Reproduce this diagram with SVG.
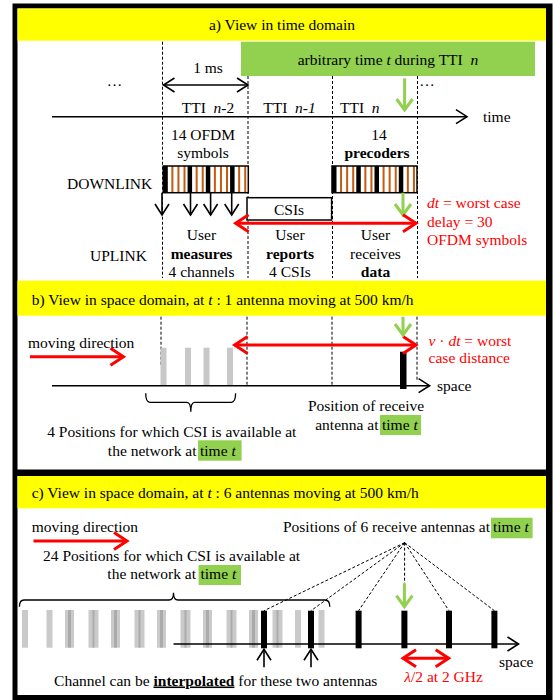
<svg xmlns="http://www.w3.org/2000/svg" xmlns:xlink="http://www.w3.org/1999/xlink" width="553" height="700" viewBox="0 0 553 700">
<style>
.t{font-family:"Liberation Serif","Times New Roman",serif;font-size:15.5px;fill:#000}
.m{text-anchor:middle}
.e{text-anchor:end}
.r{fill:#ff0000}
.b{font-weight:bold}
.i{font-style:italic}
.d{stroke:#000;stroke-width:1;stroke-dasharray:3 2;fill:none}
.k{stroke:#000;stroke-width:1.6;fill:none}
.kr{stroke:#ff0000;stroke-width:3;fill:none}
.kg{stroke:#92d050;stroke-width:3;fill:none}
.hl{fill:#92d050}
.gb{fill:#c8c8c8}
.gc{fill:#808080;fill-opacity:0.42}
.ant{fill:#000}
</style>
<defs>
<marker id="hk" viewBox="-13 -9 15 18" refX="0" refY="0" markerWidth="15" markerHeight="18" markerUnits="userSpaceOnUse" orient="auto-start-reverse" overflow="visible"><path d="M-11,-7 L0,0 L-11,7" fill="none" stroke="#000" stroke-width="1.6"/></marker>
<marker id="hr" viewBox="-16 -12 19 24" refX="0" refY="0" markerWidth="19" markerHeight="24" markerUnits="userSpaceOnUse" orient="auto-start-reverse" overflow="visible"><path d="M-13,-8.5 L0,0 L-13,8.5" fill="none" stroke="#ff0000" stroke-width="3"/></marker>
<marker id="hg" viewBox="-14 -10 17 20" refX="0" refY="0" markerWidth="17" markerHeight="20" markerUnits="userSpaceOnUse" orient="auto-start-reverse" overflow="visible"><path d="M-11,-8 L0,0 L-11,8" fill="none" stroke="#92d050" stroke-width="3"/></marker>
<g id="sf">
<rect x="0" y="0" width="85" height="26.7" fill="#fff"/>
<g fill="#c55a11">
<rect x="8.07" y="0" width="2" height="26.7"/><rect x="14.14" y="0" width="2" height="26.7"/><rect x="20.21" y="0" width="2" height="26.7"/>
<rect x="32.36" y="0" width="2" height="26.7"/><rect x="38.43" y="0" width="2" height="26.7"/>
<rect x="50.57" y="0" width="2" height="26.7"/><rect x="56.64" y="0" width="2" height="26.7"/><rect x="62.71" y="0" width="2" height="26.7"/>
<rect x="74.86" y="0" width="2" height="26.7"/><rect x="80.93" y="0" width="2" height="26.7"/>
</g>
<g fill="#000">
<rect x="0" y="0" width="4.5" height="26.7"/><rect x="24.29" y="0" width="4.5" height="26.7"/><rect x="42.5" y="0" width="4.5" height="26.7"/><rect x="66.79" y="0" width="4.5" height="26.7"/>
</g>
<rect x="0" y="0" width="85" height="26.7" fill="none" stroke="#000" stroke-width="1.5"/>
</g>
</defs>

<g id="frame">
<rect x="12.5" y="3.5" width="540" height="696.5" fill="#000"/>
<rect x="17.5" y="8.5" width="528.5" height="461" fill="#fff"/>
<rect x="17.5" y="8.5" width="528.5" height="32.2" fill="#ffff00"/>
<rect x="17.5" y="280.7" width="528.5" height="35" fill="#ffff00"/>
<rect x="17.5" y="476" width="528.5" height="219" fill="#fff"/>
<rect x="17.5" y="476" width="528.5" height="32.3" fill="#ffff00"/>
</g>

<g id="titles">
<text class="t m" x="282" y="29.5">a) View in time domain</text>
<text class="t" x="31.7" y="305">b) View in space domain, at <tspan class="i">t</tspan> : 1 antenna moving at 500 km/h</text>
<text class="t" x="31.7" y="498">c) View in space domain, at <tspan class="i">t</tspan> : 6 antennas moving at 500 km/h</text>
</g>

<g id="tti-grid">
<line class="d" x1="162.5" y1="41.7" x2="162.5" y2="278"/>
<line class="d" x1="248" y1="76" x2="248" y2="278"/>
<line class="d" x1="332.5" y1="76" x2="332.5" y2="278"/>
<line class="d" x1="417.5" y1="76" x2="417.5" y2="278"/>
<line class="d" x1="161" y1="316.7" x2="161" y2="365"/>
<line class="d" x1="247" y1="316.7" x2="247" y2="386.7"/>
<line class="d" x1="332" y1="316.7" x2="332" y2="386.7"/>
<line class="d" x1="417" y1="316.7" x2="417" y2="381.7"/>
</g>

<g id="time-t-box">
<rect class="hl" x="241" y="41.7" width="294" height="34.3"/>
<text class="t m" x="388" y="65" xml:space="preserve">arbitrary time <tspan class="i">t</tspan> during TTI  <tspan class="i">n</tspan></text>
</g>

<g id="tti-labels">
<text class="t m" x="208" y="72.5">1 ms</text>
<text class="t m" x="114.5" y="86">…</text>
<text class="t m" x="427" y="86">…</text>
<text class="t m" x="208" y="112.5" xml:space="preserve">TTI  <tspan class="i">n</tspan>-2</text>
<text class="t m" x="289.5" y="112.5" xml:space="preserve">TTI  <tspan class="i">n-1</tspan></text>
<text class="t" x="340" y="112.5" xml:space="preserve">TTI  <tspan class="i">n</tspan></text>
<text class="t" x="483" y="121.5">time</text>
</g>

<g id="downlink">
<text class="t" x="67" y="188.5">DOWNLINK</text>
<text class="t m" x="203" y="139.5">14 OFDM</text>
<text class="t m" x="203" y="158">symbols</text>
<text class="t m" x="379" y="139.5">14</text>
<text class="t m b" x="377" y="158">precoders</text>
<use xlink:href="#sf" href="#sf" x="163.3" y="166"/>
<use xlink:href="#sf" href="#sf" x="332" y="166"/>
</g>

<g id="csis">
<rect x="247" y="197.7" width="84.6" height="22.3" fill="#fff" stroke="#000" stroke-width="1.5"/>
<text class="t m" x="289" y="215">CSIs</text>
</g>

<g id="uplink">
<text class="t" x="90" y="260.5">UPLINK</text>
<text class="t m" x="201.5" y="239.5">User</text>
<text class="t m b" x="201.5" y="258.5">measures</text>
<text class="t m" x="201.5" y="277">4 channels</text>
<text class="t m" x="290" y="239.5">User</text>
<text class="t m b" x="290" y="258.5">reports</text>
<text class="t m" x="290" y="277">4 CSIs</text>
<text class="t m" x="375.5" y="239.5">User</text>
<text class="t m" x="375.5" y="258.5">receives</text>
<text class="t m b" x="375.5" y="277">data</text>
</g>

<g id="delay-label">
<text class="t r" x="427" y="208"><tspan class="i">dt</tspan> = worst case</text>
<text class="t r" x="427" y="226.5">delay = 30</text>
<text class="t r" x="427" y="245">OFDM symbols</text>
</g>

<g id="space-b">
<text class="t" x="28" y="347.5">moving direction</text>
<rect class="gb" x="160.5" y="347.7" width="6" height="37.3"/>
<rect class="gb" x="185" y="347.7" width="6" height="37.3"/>
<rect class="gb" x="203.5" y="347.7" width="6" height="37.3"/>
<rect class="gb" x="227" y="347.7" width="6" height="37.3"/>
<rect class="ant" x="400" y="351.7" width="6.5" height="37.3"/>
<text class="t" x="437" y="391">space</text>
<text class="t r" x="428.6" y="345.5"><tspan class="i">v</tspan> · <tspan class="i">dt</tspan> = worst</text>
<text class="t r" x="428.6" y="363">case distance</text>
<path d="M145.7,393.3 Q145.7,402.3 150,402.3 L187,402.3 Q190.8,402.3 190.8,411.7 Q190.8,402.3 194.6,402.3 L231.3,402.3 Q235.6,402.3 235.6,393.3" fill="none" stroke="#000" stroke-width="1.3"/>
<text class="t m" x="171.8" y="437">4 Positions for which CSI is available at</text>
<text class="t e" x="196.5" y="455.5">the network at</text>
<rect class="hl" x="198" y="440.3" width="43.6" height="20.4"/>
<text class="t" x="200" y="455.5">time <tspan class="i">t</tspan></text>
<text class="t m" x="366" y="410.5">Position of receive</text>
<text class="t e" x="378.5" y="430">antenna at</text>
<rect class="hl" x="380" y="415" width="41" height="20"/>
<text class="t" x="382" y="430">time <tspan class="i">t</tspan></text>
</g>

<g id="space-c">
<text class="t" x="31.7" y="532">moving direction</text>
<text class="t m" x="171.6" y="560.5">24 Positions for which CSI is available at</text>
<text class="t e" x="196" y="578.5">the network at</text>
<rect class="hl" x="198.6" y="565" width="42.4" height="20"/>
<text class="t" x="200.5" y="578.5">time <tspan class="i">t</tspan></text>
<text class="t e" x="490" y="532">Positions of 6 receive antennas at</text>
<rect class="hl" x="491" y="517.7" width="41.6" height="20.6"/>
<text class="t" x="493" y="532">time <tspan class="i">t</tspan></text>
<path d="M19.4,606.7 Q19.4,600 24,600 L169,600 Q173.5,600 173.5,592.7 Q173.5,600 178,600 L325,600 Q329.8,600 329.8,606.7" fill="none" stroke="#000" stroke-width="1.3"/>
<g class="gc">
<rect x="22" y="610" width="6" height="37.7"/><rect x="46.5" y="610" width="6" height="37.7"/><rect x="65" y="610" width="6" height="37.7"/><rect x="68" y="610" width="6" height="37.7"/>
<rect x="88.5" y="610" width="6" height="37.7"/><rect x="92.5" y="610" width="6" height="37.7"/><rect x="111" y="610" width="6" height="37.7"/><rect x="114" y="610" width="6" height="37.7"/>
<rect x="134.5" y="610" width="6" height="37.7"/><rect x="138.5" y="610" width="6" height="37.7"/><rect x="157" y="610" width="6" height="37.7"/><rect x="160" y="610" width="6" height="37.7"/>
<rect x="180.5" y="610" width="6" height="37.7"/><rect x="184.5" y="610" width="6" height="37.7"/><rect x="203" y="610" width="6" height="37.7"/><rect x="206" y="610" width="6" height="37.7"/>
<rect x="226.5" y="610" width="6" height="37.7"/><rect x="230.5" y="610" width="6" height="37.7"/><rect x="249" y="610" width="6" height="37.7"/><rect x="252" y="610" width="6" height="37.7"/>
<rect x="272.5" y="610" width="6" height="37.7"/><rect x="276.5" y="610" width="6" height="37.7"/><rect x="295" y="610" width="6" height="37.7"/><rect x="318.5" y="610" width="6" height="37.7"/>
</g>
<rect class="ant" x="261" y="610.7" width="6" height="37.6"/>
<rect class="ant" x="308" y="610.7" width="6" height="37.6"/>
<rect class="ant" x="355.6" y="610.7" width="6" height="37.6"/>
<rect class="ant" x="401.4" y="610.7" width="6" height="37.6"/>
<rect class="ant" x="446" y="610.7" width="6" height="37.6"/>
<rect class="ant" x="491.4" y="610.7" width="6" height="37.6"/>
<text class="t" x="499" y="667">space</text>
<text class="t r m" x="443.6" y="682"><tspan class="i">λ</tspan>/2 at 2 GHz</text>
<text class="t m" x="215.7" y="685.5">Channel can be <tspan class="b" text-decoration="underline" style="text-decoration:underline">interpolated</tspan> for these two antennas</text>
</g>

<g id="connectors">
<line class="k" x1="163.5" y1="85" x2="248" y2="85" marker-start="url(#hk)" marker-end="url(#hk)"/>
<line class="k" x1="52" y1="116.7" x2="467" y2="116.7" marker-end="url(#hk)"/>
<line class="kg" x1="404.6" y1="78.3" x2="404.6" y2="110" marker-end="url(#hg)"/>
<line class="k" x1="162" y1="192.7" x2="162" y2="215" marker-end="url(#hk)"/>
<line class="k" x1="190.5" y1="192.7" x2="190.5" y2="215" marker-end="url(#hk)"/>
<line class="k" x1="210.6" y1="192.7" x2="210.6" y2="215" marker-end="url(#hk)"/>
<line class="k" x1="231.7" y1="192.7" x2="231.7" y2="215" marker-end="url(#hk)"/>
<line class="kg" x1="403" y1="192.7" x2="403" y2="215" marker-end="url(#hg)"/>
<line class="kr" x1="235.6" y1="223.3" x2="416" y2="223.3" marker-start="url(#hr)" marker-end="url(#hr)"/>
<line class="kr" x1="30" y1="356.7" x2="123.5" y2="356.7" marker-end="url(#hr)"/>
<line class="kr" x1="234.6" y1="345" x2="416" y2="345" marker-start="url(#hr)" marker-end="url(#hr)"/>
<line class="kg" x1="403" y1="316.7" x2="403" y2="335" marker-end="url(#hg)"/>
<line class="k" x1="52" y1="385.7" x2="429.6" y2="385.7" marker-end="url(#hk)"/>
<line class="kr" x1="33.5" y1="541" x2="127" y2="541" marker-end="url(#hr)"/>
<line class="d" x1="404.6" y1="542.7" x2="264" y2="610.7"/>
<line class="d" x1="404.6" y1="542.7" x2="311" y2="610.7"/>
<line class="d" x1="404.6" y1="542.7" x2="358.6" y2="610.7"/>
<line class="d" x1="404.6" y1="542.7" x2="404.6" y2="583.3"/>
<line class="d" x1="404.6" y1="542.7" x2="449" y2="610.7"/>
<line class="d" x1="404.6" y1="542.7" x2="494.4" y2="610.7"/>
<line class="kg" x1="404.4" y1="583.3" x2="404.4" y2="606.7" marker-end="url(#hg)"/>
<line class="k" x1="173.5" y1="644" x2="518.5" y2="644" marker-end="url(#hk)"/>
<line class="k" x1="264" y1="667.3" x2="264" y2="649.3" marker-end="url(#hk)"/>
<line class="k" x1="311" y1="667.3" x2="311" y2="649.3" marker-end="url(#hk)"/>
<line class="kr" x1="403" y1="658.3" x2="448.7" y2="658.3" marker-start="url(#hr)" marker-end="url(#hr)"/>
</g>
</svg>
